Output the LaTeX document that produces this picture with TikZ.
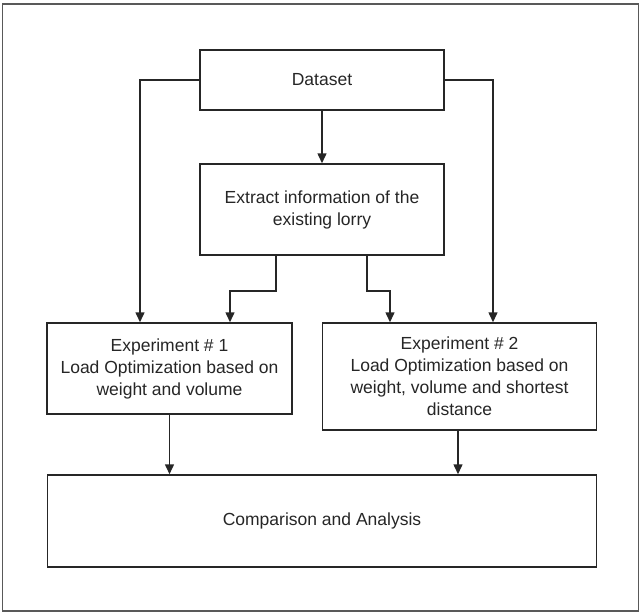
\documentclass[tikz,border=0pt]{standalone}
\usepackage{fontspec}
\setmainfont{Liberation Sans}
\usetikzlibrary{arrows.meta}
\begin{document}
\begin{tikzpicture}[x=1pt,y=-1pt,
  box/.style={draw=black!85,line width=1.5pt,fill=white,align=center,inner sep=0pt,
    font=\fontsize{17.5}{22}\selectfont,text=black!85},
  arr/.style={draw=black!85,line width=1.5pt,-{Triangle[length=10pt,width=9pt]}}]
\useasboundingbox (0,0) rectangle (642,613);
\draw[black!65,line width=1.5pt] (2.5,4) rectangle (638.5,611);
\node[box,minimum width=244pt,minimum height=60pt] (ds) at (322,80) {Dataset};
\node[box,minimum width=244pt,minimum height=91pt] (ex) at (322,209.5) {Extract information of the\\existing lorry};
\node[box,minimum width=245pt,minimum height=91pt] (e1) at (169.5,368.5) {Experiment \# 1\\Load Optimization based on\\weight and volume};
\node[box,minimum width=274pt,minimum height=107pt] (e2) at (459.5,376.5) {Experiment \# 2\\Load Optimization based on\\weight, volume and shortest\\distance};
\node[box,minimum width=549pt,minimum height=92pt] (cp) at (322,521) {Comparison and Analysis};
\draw[arr] (ds.south) -- (ex.north);
\draw[arr] (ds.west) -| ([xshift=-29.5pt]e1.north);
\draw[arr] (ds.east) -| ([xshift=33.5pt]e2.north);
\draw[arr] ([xshift=-46pt]ex.south) -- ++(0,35) -| ([xshift=60.5pt]e1.north);
\draw[arr] ([xshift=45pt]ex.south) -- ++(0,35) -| ([xshift=-69.5pt]e2.north);
\draw[arr] (e1.south) -- (e1.south |- cp.north);
\draw[arr] ([xshift=-1.5pt]e2.south) -- ([xshift=-1.5pt]e2.south |- cp.north);
\end{tikzpicture}
\end{document}
